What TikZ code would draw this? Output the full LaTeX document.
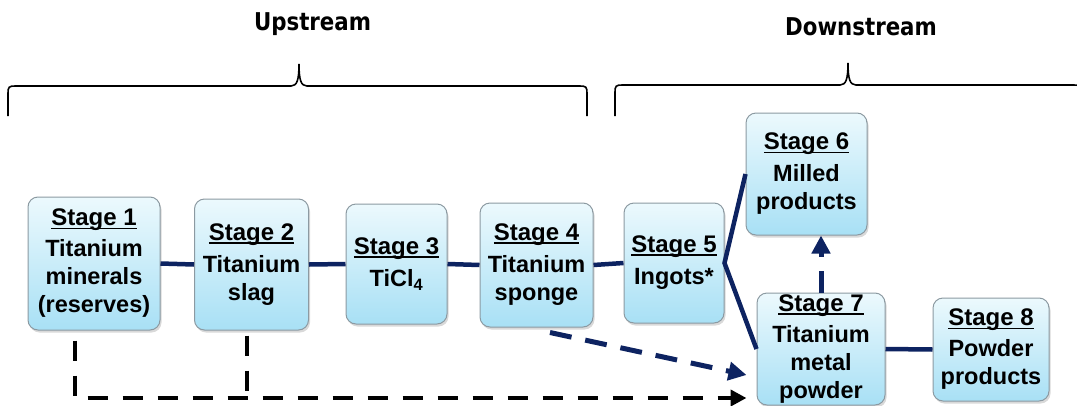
\documentclass[tikz,border=0pt]{standalone}
\usepackage{fontspec}
\setmainfont{Liberation Sans}
\newfontfamily\hdrfont{DejaVu Sans}[FakeStretch=0.87]
\usetikzlibrary{arrows.meta,shadows}
\definecolor{navy}{HTML}{0D2361}
\definecolor{boxtop}{HTML}{ECF9FD}
\definecolor{boxbot}{HTML}{A8E0F5}
\definecolor{boxline}{HTML}{8C9AA2}
\newcommand\stg[1]{{\fontsize{24}{28}\selectfont\setbox0\hbox{#1}\rlap{\rule[-3.5pt]{\wd0}{1.9pt}}\box0}}
\begin{document}
\begin{tikzpicture}[x=1pt,y=-1pt,
  stagebox/.style={draw=boxline, line width=1pt, rounded corners=10pt,
    top color=boxtop, bottom color=boxbot, align=center, inner sep=0pt,
    font=\fontsize{23.5}{28}\selectfont\bfseries,
    drop shadow={shadow xshift=1.5pt,shadow yshift=-2.5pt,opacity=0.3}},
  link/.style={navy, line width=4.5pt},
  navydash/.style={navy, line width=5pt, dash pattern=on 22pt off 14pt,
    -{Triangle[length=18pt,width=18pt]}},
  blackdash/.style={black, line width=4.5pt, dash pattern=on 20pt off 15pt},
  bracepath/.style={black, line width=1.6pt},
  hdr/.style={font=\hdrfont\bfseries\fontsize{24.5}{28}\selectfont, inner sep=0pt, anchor=base}]
\path[use as bounding box] (0,0) rectangle (1077,405);
\clip (0,0) rectangle (1077,405);

% headers
\node[hdr] (up) at (312.5,30) {Upstream};
\node[hdr] (down) at (861,35) {Downstream};

% braces
\draw[bracepath] (8,116) -- (8,93) .. controls (8,87) and (9,86) .. (15,86)
  -- (291,86) .. controls (297,86) and (299,80) .. (299,64)
  .. controls (299,80) and (301,86) .. (307,86)
  -- (580,86) .. controls (586,86) and (587,87) .. (587,93) -- (587,116);
\draw[bracepath] (615,116) -- (615,92) .. controls (615,86) and (616,85) .. (622,85)
  -- (840,85) .. controls (846,85) and (848,79) .. (848,63)
  .. controls (848,79) and (850,85) .. (856,85)
  -- (1074,85) .. controls (1080,85) and (1081,86) .. (1081,92) -- (1081,116);

% stages
\node[stagebox, minimum width=132pt, minimum height=133pt] (s1) at (94,263.5)
  {\stg{Stage 1}\\[3pt]Titanium\\minerals\\(reserves)};
\node[stagebox, minimum width=114pt, minimum height=131pt] (s2) at (251.5,264.5)
  {\stg{Stage 2}\\[4pt]Titanium\\slag};
\node[stagebox, minimum width=101pt, minimum height=120pt] (s3) at (396.5,264)
  {\stg{Stage 3}\\[4pt]TiCl\textsubscript{4}};
\node[stagebox, minimum width=113pt, minimum height=124pt] (s4) at (536.5,265)
  {\stg{Stage 4}\\[4pt]Titanium\\sponge};
\node[stagebox, minimum width=100pt, minimum height=120pt] (s5) at (674,263)
  {\stg{Stage 5}\\[4pt]Ingots*};
\node[stagebox, minimum width=121pt, minimum height=122pt] (s6) at (806.5,174)
  {\stg{Stage 6}\\[4pt]Milled\\products};
\node[stagebox, minimum width=128pt, minimum height=112pt] (s7) at (821,349)
  {\stg{Stage 7}\\[3pt]Titanium\\metal\\powder};
\node[stagebox, minimum width=116pt, minimum height=103pt] (s8) at (991,349.5)
  {\stg{Stage 8}\\[3pt]Powder\\products};

% solid links
\draw[link] (s1.east) -- (s2.west);
\draw[link] (s2.east) -- (s3.west);
\draw[link] (s3.east) -- (s4.west);
\draw[link] (s4.east) -- (s5.west);
\draw[link, line join=miter] (s6.west) -- (s5.east) -- (s7.west);
\draw[link] (s7.east) -- (s8.west);

% navy dashed arrows
\draw[navydash] (s7.north) -- (s7.north |- s6.south);
\coordinate (d1) at ([xshift=13.5pt,yshift=-5pt]s4.south);
\coordinate (d2) at ([xshift=-10pt,yshift=-26pt]s7.west);
\draw[navydash] (d1) -- (d2);

% black dashed arrows
\coordinate (b1) at ([xshift=-19pt,yshift=-10pt]s1.south);
\coordinate (b2) at ([xshift=-10pt,yshift=-49pt]s7.west);
\coordinate (c1) at ([xshift=-4.5pt,yshift=-5pt]s2.south);
\draw[blackdash, -{Triangle[length=16pt,width=16pt]}] (b1) |- (b2);
\draw[blackdash] (c1) -- (c1 |- b2);
\end{tikzpicture}
\end{document}
